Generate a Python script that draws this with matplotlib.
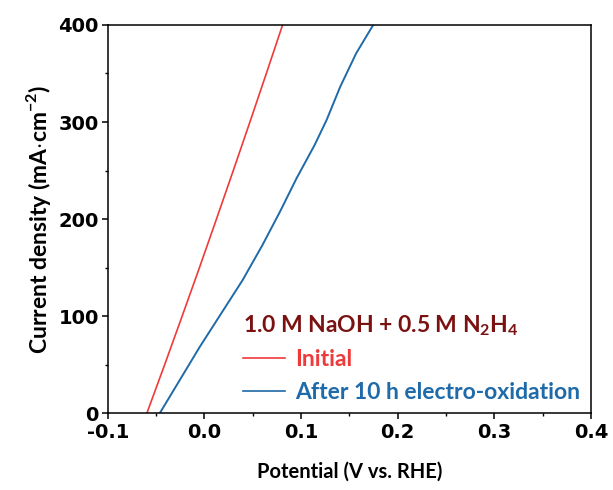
import matplotlib
matplotlib.use("Agg")
import matplotlib.pyplot as plt
from matplotlib.lines import Line2D

# Data
initial_v = [-0.0596, -0.0412, -0.0231, -0.0052, 0.0124, 0.0298, 0.0470, 0.0640, 0.0808]
initial_j = [0, 50, 100, 150, 200, 250, 300, 350, 400]

after_v = [-0.0462, -0.0048, 0.0395, 0.0600, 0.0781, 0.0953, 0.1140,
           0.1264, 0.1405, 0.1570, 0.1746]
after_j = [0, 68.4, 137.1, 173.2, 207.5, 242.0, 276.3, 302.1, 336.4, 370.8, 400]

xticks = [-0.1, 0.0, 0.1, 0.2, 0.3, 0.4]
xticklabels = ["-0.1", "0.0", "0.1", "0.2", "0.3", "0.4"]
yticks = [0, 100, 200, 300, 400]

series_labels = ["Initial", "After 10 h electro-oxidation"]
legend_title = r"1.0 M NaOH + 0.5 M N$_\mathbf{2}$H$_\mathbf{4}$"

red = "#f03a3a"
blue = "#1f6aa8"
darkred = "#7a1212"

plt.rcParams["mathtext.fontset"] = "custom"
plt.rcParams["mathtext.bf"] = "Lato:bold"
plt.rcParams["mathtext.rm"] = "Lato:bold"

fig = plt.figure(figsize=(6.13, 4.90), dpi=100)
ax = fig.add_axes([0.176, 0.157, 0.788, 0.792])

ax.plot(initial_v, initial_j, color=red, lw=1.2)
ax.plot(after_v, after_j, color=blue, lw=1.4)

ax.set_xlim(-0.1, 0.4)
ax.set_ylim(0, 400)
ax.set_xticks(xticks)
ax.set_xticklabels(xticklabels)
ax.set_yticks(yticks)
ax.set_xticks([-0.05, 0.05, 0.15, 0.25, 0.35], minor=True)
ax.set_yticks([50, 150, 250, 350], minor=True)

for lab in ax.get_xticklabels() + ax.get_yticklabels():
    lab.set_fontfamily("DejaVu Sans")
    lab.set_fontweight("bold")
    lab.set_fontsize(14)

ax.tick_params(axis="x", which="major", pad=3)
ax.tick_params(axis="y", which="major", pad=2)
ax.tick_params(which="major", direction="out", length=4.5, width=1.1,
               top=False, right=False)
ax.tick_params(which="minor", direction="out", length=2.5, width=1.0,
               top=False, right=False)
for s in ax.spines.values():
    s.set_linewidth(1.1)

ax.set_xlabel("Potential (V vs. RHE)", fontfamily="Lato", fontweight="bold",
              fontsize=14.5, labelpad=14)
ax.set_ylabel(r"Current density (mA$\cdot$cm$^{\mathbf{-2}}$)", fontfamily="Lato",
              fontweight="bold", fontsize=16.5, labelpad=4)

handles = [Line2D([], [], color=red, lw=1.2), Line2D([], [], color=blue, lw=1.2)]
leg = ax.legend(handles, series_labels, title=legend_title, loc="lower right",
                frameon=False, handlelength=1.85, handletextpad=0.45,
                labelspacing=0.5, borderaxespad=0.35, borderpad=0.1,
                prop={"family": "Lato", "weight": "bold", "size": 16.5},
                title_fontproperties={"family": "Lato", "weight": "bold", "size": 16.5},
                alignment="left")
leg.get_title().set_color(darkred)
for t, c in zip(leg.get_texts(), [red, blue]):
    t.set_color(c)

fig.savefig("out.png", dpi=100)
